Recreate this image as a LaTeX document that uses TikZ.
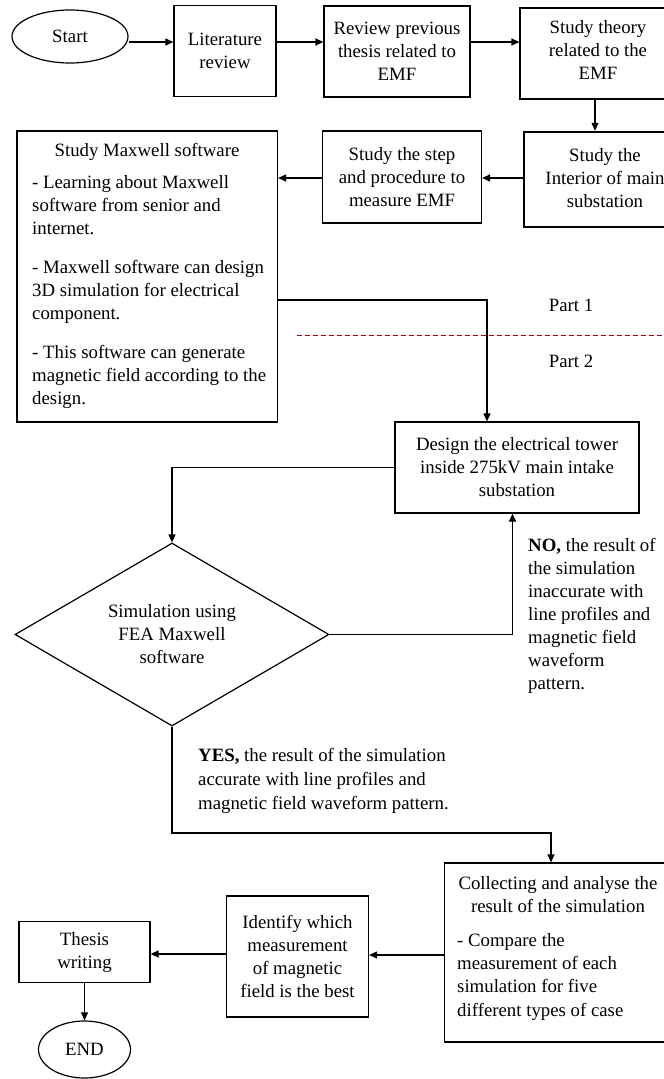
\documentclass[tikz,border=0pt]{standalone}
\usepackage{fontspec}
\setmainfont{Liberation Serif}
\usetikzlibrary{shapes.geometric,arrows.meta,calc}
\begin{document}
\begin{tikzpicture}[x=1pt,y=-1pt,
  every node/.style={font=\fontsize{18.8}{23}\selectfont},
  box/.style={draw, line width=1.2pt, rectangle, inner sep=0pt, align=center},
  oval/.style={draw, ellipse, line width=1.2pt, inner sep=0pt},
  txt/.style={inner sep=0pt, align=left},
  ctxt/.style={inner sep=0pt, align=center},
  arr/.style={line width=1.2pt, -{Triangle[length=8pt,width=7pt]}},
  sep/.style={line width=1pt, draw=red!65!black, dash pattern=on 5pt off 3pt}]
\useasboundingbox (0,0) rectangle (664,1079);
\clip (0,0) rectangle (664,1079);

% top row
\node[oval, minimum width=116pt, minimum height=53pt] (start) at (70,36.5) {Start};
\node[box, minimum width=102pt, minimum height=91pt] (lit) at (225,51) {Literature\\review};
\node[box, minimum width=146pt, minimum height=91pt] (rev) at (397,51.5) {Review previous\\thesis related to\\EMF};
\node[box, minimum width=160pt, minimum height=91pt] (theory) at (600,53.5) {};
\node[ctxt] (theoryT) at (598,50) {Study theory\\related to the\\EMF};

% second row
\node[box, line width=2.4pt, minimum width=162pt, minimum height=95pt] (interior) at (605,179.5) {};
\node[ctxt] (interiorT) at (605,178) {Study the\\Interior of main\\substation};
\node[box, minimum width=159pt, minimum height=92pt] (step) at (402,177) {Study the step\\and procedure to\\measure EMF};
\node[box, minimum width=260.5pt, minimum height=291pt] (maxwell) at (147.25,276.5) {};
\node[ctxt] (maxwellT) at (147,152) {Study Maxwell software};
\node[txt, anchor=north west] (maxwellB) at (32,175) {- Learning about Maxwell\\software from senior and\\internet.\\[16pt]- Maxwell software can design\\3D simulation for electrical\\component.\\[16pt]- This software can generate\\magnetic field according to the\\design.};

% part separator
\node[ctxt] (part1) at (571,305) {Part 1};
\node[ctxt] (part2) at (571,361) {Part 2};
\coordinate (dl) at (296.5,335);
\coordinate (dr) at (664,335);
\draw[sep] (dl) -- (dr);

% design and decision
\node[box, minimum width=244pt, minimum height=91pt] (design) at (517,467.5) {Design the electrical tower\\inside 275kV main intake\\substation};
\node[draw, diamond, line width=1.2pt, inner sep=0pt, shape aspect=1.716, minimum width=314pt, minimum height=183pt, align=center] (sim) at (172,634.5) {Simulation using\\FEA Maxwell\\software};
\node[txt, anchor=north west] (no) at (528,538) {\textbf{NO,} the result of\\the simulation\\inaccurate with\\line profiles and\\magnetic field\\waveform\\pattern.};
\node[txt, anchor=north west, font=\fontsize{18.8}{24}\selectfont] (yes) at (198,748) {\textbf{YES,} the result of the simulation\\accurate with line profiles and\\magnetic field waveform pattern.};

% bottom row
\node[box, minimum width=227.3pt, minimum height=179pt] (coll) at (558.35,952.5) {};
\node[ctxt] (collT) at (558,894.5) {Collecting and analyse the\\result of the simulation};
\node[txt, anchor=north west, font=\fontsize{18.8}{23.3}\selectfont] (collB) at (457,933) {- Compare the\\measurement of each\\simulation for five\\different types of case};
\node[box, minimum width=142pt, minimum height=121pt] (ident) at (297.5,956.5) {Identify which\\measurement\\of magnetic\\field is the best};
\node[box, minimum width=131pt, minimum height=61pt] (thesis) at (84.5,952) {Thesis\\writing};
\node[oval, minimum width=92pt, minimum height=57pt] (finish) at (84.5,1049.5) {END};

% connectors
\coordinate (r1) at (0,42);
\draw[arr] (start.east |- r1) -- (lit.west |- r1);
\draw[arr] (lit.east |- r1) -- (rev.west |- r1);
\draw[arr] (rev.east |- r1) -- (theory.west |- r1);
\coordinate (c1) at (595,0);
\draw[arr] (theory.south -| c1) -- (interior.north -| c1);
\coordinate (r2) at (0,178);
\draw[arr] (interior.west |- r2) -- (step.east |- r2);
\draw[arr] (step.west |- r2) -- (maxwell.east |- r2);
\coordinate (r3) at (0,300);
\coordinate (c2) at (487,0);
\draw[arr] (maxwell.east |- r3) -- (c2 |- r3) -- (design.north -| c2);
\draw[arr] (design.west) -| (sim.north);
\coordinate (c3) at (512.5,0);
\draw[arr] (sim.east) -- (c3 |- sim.east) -- (design.south -| c3);
\coordinate (r4) at (0,833);
\coordinate (c4) at (551,0);
\draw[arr] (sim.south) -- (sim.south |- r4) -- (c4 |- r4) -- (coll.north -| c4);
\coordinate (r5) at (0,955);
\draw[arr] (coll.west |- r5) -- (ident.east |- r5);
\coordinate (r6) at (0,954);
\draw[arr] (ident.west |- r6) -- (thesis.east |- r6);
\draw[arr] (thesis.south) -- (finish.north);
\end{tikzpicture}
\end{document}
